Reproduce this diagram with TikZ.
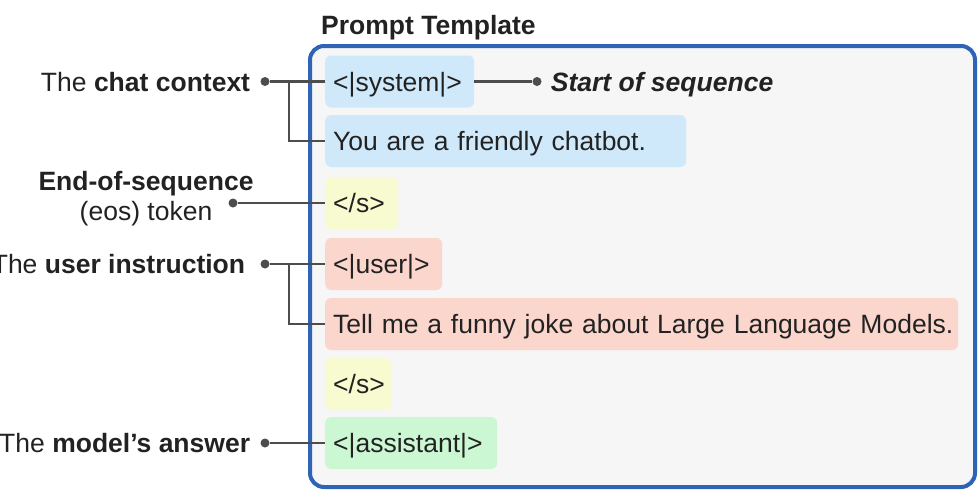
\documentclass[tikz,border=0pt]{standalone}
\usepackage{fontspec}
\setmainfont{Liberation Sans}
\usepackage{xcolor}
\usetikzlibrary{positioning}

\definecolor{frameblue}{HTML}{2E63B5}
\definecolor{framefill}{HTML}{F6F6F6}
\definecolor{sysblue}{HTML}{CFE9FA}
\definecolor{eosyellow}{HTML}{F7FBCF}
\definecolor{userpink}{HTML}{FBD6CC}
\definecolor{asstgreen}{HTML}{CCF7D3}
\definecolor{linegray}{HTML}{4D4D4D}
\definecolor{inkgray}{HTML}{222222}

\begin{document}
\begin{tikzpicture}[x=1pt, y=-1pt, font=\fontsize{26.5}{30}\selectfont, text=inkgray]
    % Styles
    \tikzstyle{frame} = [rectangle, draw=frameblue, fill=framefill, line width=4pt, rounded corners=14pt]
    \tikzstyle{tok} = [rectangle, anchor=west, rounded corners=6pt, inner xsep=8pt, inner ysep=0pt, minimum height=52pt, text height=19pt, text depth=0pt, align=left]
    \tikzstyle{sysbox} = [tok, fill=sysblue]
    \tikzstyle{eosbox} = [tok, fill=eosyellow]
    \tikzstyle{userbox} = [tok, fill=userpink]
    \tikzstyle{asstbox} = [tok, fill=asstgreen]
    \tikzstyle{lbl} = [inner sep=0pt, text height=19pt, text depth=0pt]
    \tikzstyle{dot} = [circle, fill=linegray, inner sep=0pt, minimum size=9pt]
    \tikzstyle{line} = [draw=linegray, line width=2.3pt]

    \useasboundingbox (0,0) rectangle (980,491);

    % Template frame
    \node [frame, minimum width=665pt, minimum height=441pt] (tmpl) at (642.5,266.5) {};
    \node [lbl, anchor=west, font=\fontsize{26.5}{30}\selectfont\bfseries] (title) at (321,25) {Prompt Template};

    % Tokens
    \node [sysbox, text width=133pt] (sys) at (325,81.5) {\mbox{<|system|>}};
    \node [sysbox, text width=345pt] (sysmsg) at (325,141) {\mbox{You are a friendly chatbot.}};
    \node [eosbox, text width=57pt] (eosa) at (325,203) {\mbox{</s>}};
    \node [userbox, text width=101pt] (usr) at (325,264) {\mbox{<|user|>}};
    \node [userbox, text width=617pt] (usrmsg) at (325,324) {\mbox{Tell me a funny joke about Large Language Models.}};
    \node [eosbox, text width=50pt] (eosb) at (325,384) {\mbox{</s>}};
    \node [asstbox, text width=156pt] (asst) at (325,443) {\mbox{<|assistant|>}};

    % Dots and labels
    \node [dot] (cdot) at (265,81.5) {};
    \node [dot] (edot) at (233,203) {};
    \node [dot] (udot) at (265,264) {};
    \node [dot] (adot) at (265,443) {};
    \node [dot] (sdot) at (537,81.5) {};
    \node [lbl, left=10pt of cdot] (chatlbl) {The \textbf{chat context}};
    \node [inner sep=0pt, anchor=north, align=center] (eoslbl) at (146,171) {\textbf{End-of-sequence}\\(eos) token};
    \node [lbl, left=15pt of udot] (userlbl) {The \textbf{user instruction}};
    \node [lbl, left=10pt of adot] (asstlbl) {The \textbf{model’s answer}};
    \node [lbl, right=9pt of sdot] (startlbl) {\textbf{\textit{Start of sequence}}};
    \coordinate (cfork) at (289,81.5);
    \coordinate (ufork) at (289,264);

    % Paths
    \path [line] (cdot) -- (sys.west);
    \path [line] (cfork) |- (sysmsg.west);
    \path [line] (edot) -- (eosa.west);
    \path [line] (udot) -- (usr.west);
    \path [line] (ufork) |- (usrmsg.west);
    \path [line] (adot) -- (asst.west);
    \path [line] (sys.east) -- (sdot);
\end{tikzpicture}
\end{document}
